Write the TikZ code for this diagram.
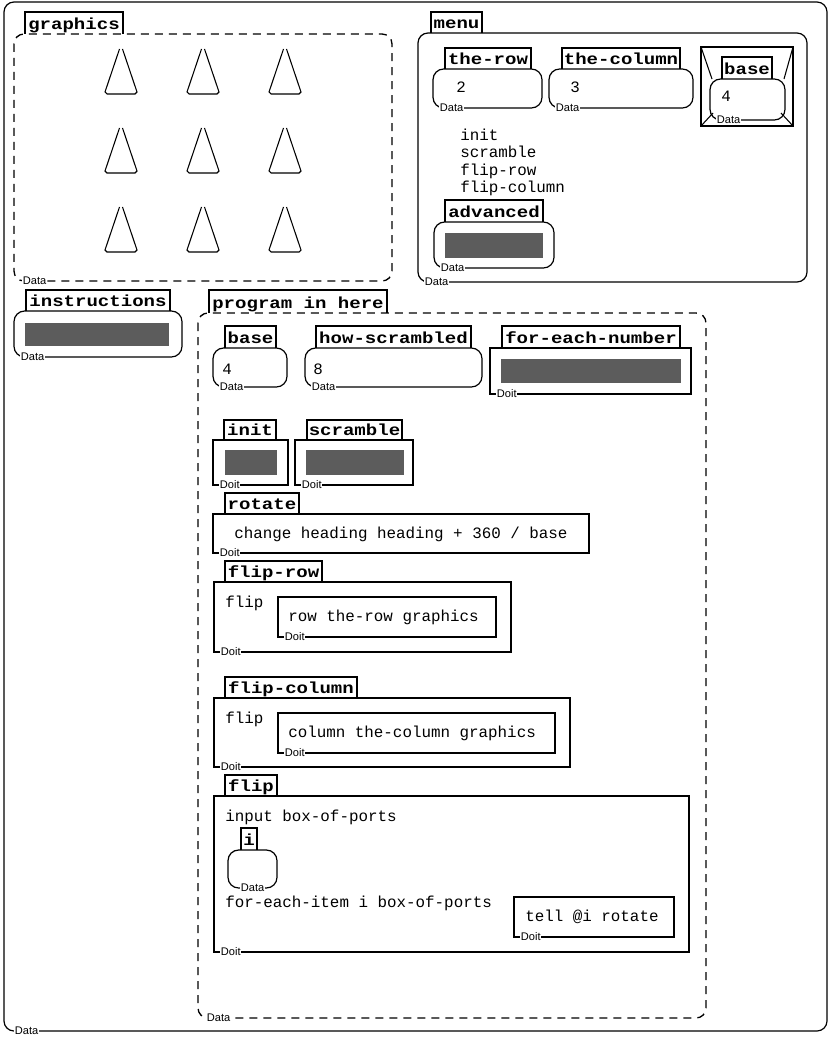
\documentclass[tikz,border=0pt]{standalone}
\usepackage{fontspec}
\newfontfamily\monof{Liberation Mono}
\newfontfamily\tabf[FakeStretch=1.19]{Liberation Mono}
\newfontfamily\lblf{Liberation Sans}
\newcommand\boxtab[6]{%
  \draw[tabline] (#2,#5) |- (#3,#4) -- (#3,#5);
  \node[tabtext] (#1) at ({(#2+#3)/2},#5-4.5) {#6};}
\tikzset{
  frame/.style={draw, line width=0.9pt, rounded corners=7.5pt},
  dframe/.style={draw, line width=1pt, rounded corners=7.5pt, dash pattern=on 6pt off 4.5pt},
  dbox/.style={draw, line width=0.9pt, rounded corners=8pt},
  doitbox/.style={draw, line width=0.9pt},
  tabline/.style={draw, line width=0.9pt},
  tabtext/.style={font=\tabf\bfseries\fontsize{12}{14}\selectfont, inner sep=0, anchor=base},
  txt/.style={font=\monof\fontsize{11.9}{14}\selectfont, inner sep=0, anchor=base west},
  lbl/.style={font=\lblf\fontsize{8.3}{9}\selectfont, fill=white, inner sep=0.5pt, anchor=west},
  shade/.style={fill=black!64},
  cone/.style={draw, line width=0.8pt}
}
\begin{document}
\begin{tikzpicture}[x=0.75pt,y=-0.75pt]
\useasboundingbox (0,0) rectangle (830,1037);
% outer frame
\draw[frame] (4,2) rectangle (827,1031);
\node[lbl] (outerD) at (14,1031) {Data};

% graphics
\draw[dframe] (14,34) rectangle (392,281);
\boxtab{graphicsT}{25}{123}{12}{34}{graphics}
\node[lbl] (graphicsD) at (22,281) {Data};
\foreach \cx in {121,203,285}{
  \foreach \ty in {49,128,207}{
    \draw[cone] (\cx-1.5,\ty) -- (\cx-16,\ty+43) -- (\cx-14,\ty+45) -- (\cx+14,\ty+45) -- (\cx+16,\ty+43) -- (\cx+1.5,\ty);
  }
}

% menu
\draw[frame] (418,33) rectangle (807,282);
\boxtab{menuT}{431}{482}{12}{33}{menu}
\node[lbl] (menuD) at (424,282) {Data};

\draw[dbox] (433,69) rectangle (542,108);
\boxtab{therowT}{445}{531}{48}{69}{the-row}
\node[txt] (therowV) at (456,93) {2};
\node[lbl] (therowD) at (439,108) {Data};

\draw[dbox] (549,69) rectangle (693,108);
\boxtab{thecolT}{562}{680}{48}{69}{the-column}
\node[txt] (thecolV) at (570,93) {3};
\node[lbl] (thecolD) at (555,108) {Data};

% base port
\draw[doitbox] (701,47) rectangle (793,126);
\draw[dbox] (710,79) rectangle (785,120);
\boxtab{mbaseT}{722}{772}{57}{79}{base}
\draw[line width=0.8pt] (701,47) -- (712,79);
\draw[line width=0.8pt] (793,47) -- (784,79);
\draw[line width=0.8pt] (701,126) -- (713,113);
\draw[line width=0.8pt] (793,126) -- (781,113);
\node[txt] (mbaseV) at (721,102) {4};
\node[lbl] (mbaseD) at (716,120) {Data};

\node[txt] (m1) at (460,141) {init};
\node[txt] (m2) at (460,158) {scramble};
\node[txt] (m3) at (460,176) {flip-row};
\node[txt] (m4) at (460,193) {flip-column};

\draw[dbox] (434,222) rectangle (554,268);
\boxtab{advT}{445}{543}{200}{222}{advanced}
\fill[shade] (445,233) rectangle (543,258);
\node[lbl] (advD) at (440,268) {Data};

% instructions
\draw[dbox] (14,311) rectangle (182,357);
\boxtab{instrT}{26}{170}{290}{311}{instructions}
\fill[shade] (25,323) rectangle (169,346);
\node[lbl] (instrD) at (20,357) {Data};

% program in here
\draw[dframe] (198,313) rectangle (706,1018);
\boxtab{progT}{209}{387}{290}{313}{program in here}
\node[lbl] (progD) at (206,1018) {Data};

\draw[dbox] (213,348) rectangle (287,387);
\boxtab{pbaseT}{225}{276}{326}{348}{base}
\node[txt] (pbaseV) at (222,374) {4};
\node[lbl] (pbaseD) at (219,387) {Data};

\draw[dbox] (305,348) rectangle (482,387);
\boxtab{howT}{316}{471}{326}{348}{how-scrambled}
\node[txt] (howV) at (313,374) {8};
\node[lbl] (howD) at (311,387) {Data};

\draw[doitbox] (490,348) rectangle (691,394);
\boxtab{fenT}{502}{680}{326}{348}{for-each-number}
\fill[shade] (501,359) rectangle (681,383);
\node[lbl] (fenD) at (496,394) {Doit};

\draw[doitbox] (213,440) rectangle (288,485);
\boxtab{initT}{224}{276}{420}{440}{init}
\fill[shade] (225,450) rectangle (277,475);
\node[lbl] (initD) at (219,485) {Doit};

\draw[doitbox] (295,440) rectangle (413,485);
\boxtab{scrT}{307}{402}{420}{440}{scramble}
\fill[shade] (306,450) rectangle (404,475);
\node[lbl] (scrD) at (301,485) {Doit};

% rotate
\draw[doitbox] (213,514) rectangle (589,553);
\boxtab{rotT}{225}{299}{493}{514}{rotate}
\node[txt] (rotV) at (234,538) {change heading heading + 360 / base};
\node[lbl] (rotD) at (219,553) {Doit};

% flip-row
\draw[doitbox] (214,582) rectangle (511,652);
\boxtab{frT}{225}{322}{561}{582}{flip-row}
\node[txt] (frF) at (225,607) {flip};
\draw[doitbox] (278,597) rectangle (496,637);
\node[txt] (frV) at (288,621) {row the-row graphics};
\node[lbl] (frID) at (284,637) {Doit};
\node[lbl] (frD) at (220,652) {Doit};

% flip-column
\draw[doitbox] (214,698) rectangle (570,767);
\boxtab{fcT}{225}{357}{677}{698}{flip-column}
\node[txt] (fcF) at (225,723) {flip};
\draw[doitbox] (278,713) rectangle (555,753);
\node[txt] (fcV) at (288,737) {column the-column graphics};
\node[lbl] (fcID) at (284,753) {Doit};
\node[lbl] (fcD) at (220,767) {Doit};

% flip
\draw[doitbox] (214,796) rectangle (689,952);
\boxtab{flT}{225}{277}{775}{796}{flip}
\node[txt] (flIn) at (225,821) {input box-of-ports};
\draw[dbox] (228,850) rectangle (277,888);
\boxtab{iT}{241}{257}{828}{850}{i}
\node[lbl] (iD) at (240,888) {Data};
\node[txt] (flFe) at (225,907) {for-each-item i box-of-ports};
\draw[doitbox] (514,897) rectangle (674,937);
\node[txt] (tellV) at (525,921) {tell @i rotate};
\node[lbl] (tellD) at (520,937) {Doit};
\node[lbl] (flD) at (220,952) {Doit};
\end{tikzpicture}
\end{document}
